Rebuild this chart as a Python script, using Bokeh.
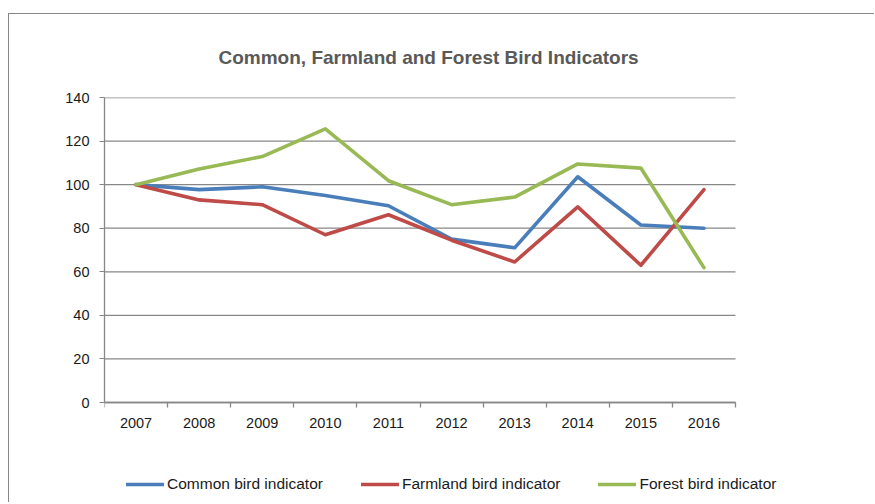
from bokeh.plotting import figure
from bokeh.models import FixedTicker, Legend, LegendItem
from bokeh.embed import file_html
from bokeh.resources import INLINE

years = [2007, 2008, 2009, 2010, 2011, 2012, 2013, 2014, 2015, 2016]
common = [100, 97.7, 99, 95, 90.3, 75, 71, 103.6, 81.5, 80]
farmland = [100, 93, 90.8, 77, 86.2, 74.5, 64.5, 89.8, 63, 97.7]
forest = [100, 107.2, 112.9, 125.6, 101.8, 90.8, 94.3, 109.5, 107.6, 61.9]
y_ticks = [0, 20, 40, 60, 80, 100, 120, 140]
series_names = ["Common bird indicator", "Farmland bird indicator", "Forest bird indicator"]
colors = ["#4A7EBB", "#BE4B48", "#98B954"]

FONT = "Liberation Sans"
GRID = "#878787"

# layout (pixels)
W, H = 866, 489
BL, BR, BT, BB = 95, 56, 83, 3
AXIS_H = 305                      # pixel height of the 0..140 value span
AXIS_W = 631                      # pixel width of the category span
FRAME_H = H - BT - BB             # frame extends below 0 and right of 2016 to host the legend
FRAME_W = W - BL - BR
x_lo = years[0] - 0.5
x_hi = x_lo + len(years) * FRAME_W / AXIS_W
y_lo = y_ticks[-1] - (y_ticks[-1] - y_ticks[0]) * FRAME_H / AXIS_H

p = figure(
    width=W, height=H,
    x_range=(x_lo, x_hi),
    y_range=(y_lo, y_ticks[-1]),
    output_backend="svg", toolbar_location=None,
    min_border_left=BL, min_border_right=BR,
    min_border_top=BT, min_border_bottom=BB,
    title="Common, Farmland  and Forest Bird Indicators",
)
p.styles = {"border-left": "1px solid #878787", "border-top": "1px solid #878787",
            "margin-top": "13px", "margin-left": "8px"}

p.title.align = "left"
p.title.offset = 114
p.title.standoff = 60
p.title.text_font = FONT
p.title.text_font_size = "19px"
p.title.text_font_style = "bold"
p.title.text_color = "#595959"

p.outline_line_color = None
p.background_fill_color = "white"
p.border_fill_color = "white"

# horizontal gridlines limited to the category span
p.xgrid.visible = False
p.ygrid.visible = False
p.segment(x0=[years[0] - 0.5] * len(y_ticks), y0=y_ticks,
          x1=[years[-1] + 0.5] * len(y_ticks), y1=y_ticks,
          line_color=GRID, line_width=1.3)

# y axis
p.yaxis.ticker = FixedTicker(ticks=y_ticks)
p.yaxis.bounds = (y_ticks[0], y_ticks[-1])
p.yaxis.axis_line_color = GRID
p.yaxis.axis_line_width = 1.3
p.yaxis.major_tick_line_color = GRID
p.yaxis.major_tick_out = 5
p.yaxis.major_tick_in = 0
p.yaxis.minor_tick_line_color = None
p.yaxis.major_label_standoff = 10
p.yaxis.major_label_text_font = FONT
p.yaxis.major_label_text_font_size = "14.5px"
p.yaxis.major_label_text_color = "#1a1a1a"

# x axis at value 0: labels at years, ticks between categories
p.xaxis.fixed_location = y_ticks[0]
p.xaxis.bounds = (years[0] - 0.5, years[-1] + 0.5)
p.xaxis.ticker = FixedTicker(ticks=years, minor_ticks=[y - 0.5 for y in years] + [years[-1] + 0.5])
p.xaxis.major_label_overrides = {y: str(y) for y in years}
p.xaxis.axis_line_color = GRID
p.xaxis.axis_line_width = 1.3
p.xaxis.major_tick_line_color = None
p.xaxis.major_tick_out = 0
p.xaxis.major_tick_in = 0
p.xaxis.minor_tick_line_color = GRID
p.xaxis.minor_tick_line_width = 1.3
p.xaxis.minor_tick_out = 5
p.xaxis.minor_tick_in = 0
p.xaxis.major_label_standoff = 10
p.xaxis.major_label_text_font = FONT
p.xaxis.major_label_text_font_size = "14.5px"
p.xaxis.major_label_text_color = "#1a1a1a"

renderers = []
for vals, c in zip([common, farmland, forest], colors):
    r = p.line(years, vals, line_color=c, line_width=3.6, line_join="round", line_cap="round")
    renderers.append(r)

legend = Legend(
    items=[LegendItem(label=n, renderers=[r]) for n, r in zip(series_names, renderers)],
    orientation="horizontal", location=(22, 7),
    padding=0, margin=0, spacing=38,
    glyph_width=38, glyph_height=16, label_height=16, label_standoff=3,
    label_text_font=FONT, label_text_font_size="15.5px", label_text_color="#1a1a1a",
    border_line_color=None, background_fill_alpha=0,
)
p.add_layout(legend, "center")

open("out.html", "w").write(file_html(p, INLINE))
